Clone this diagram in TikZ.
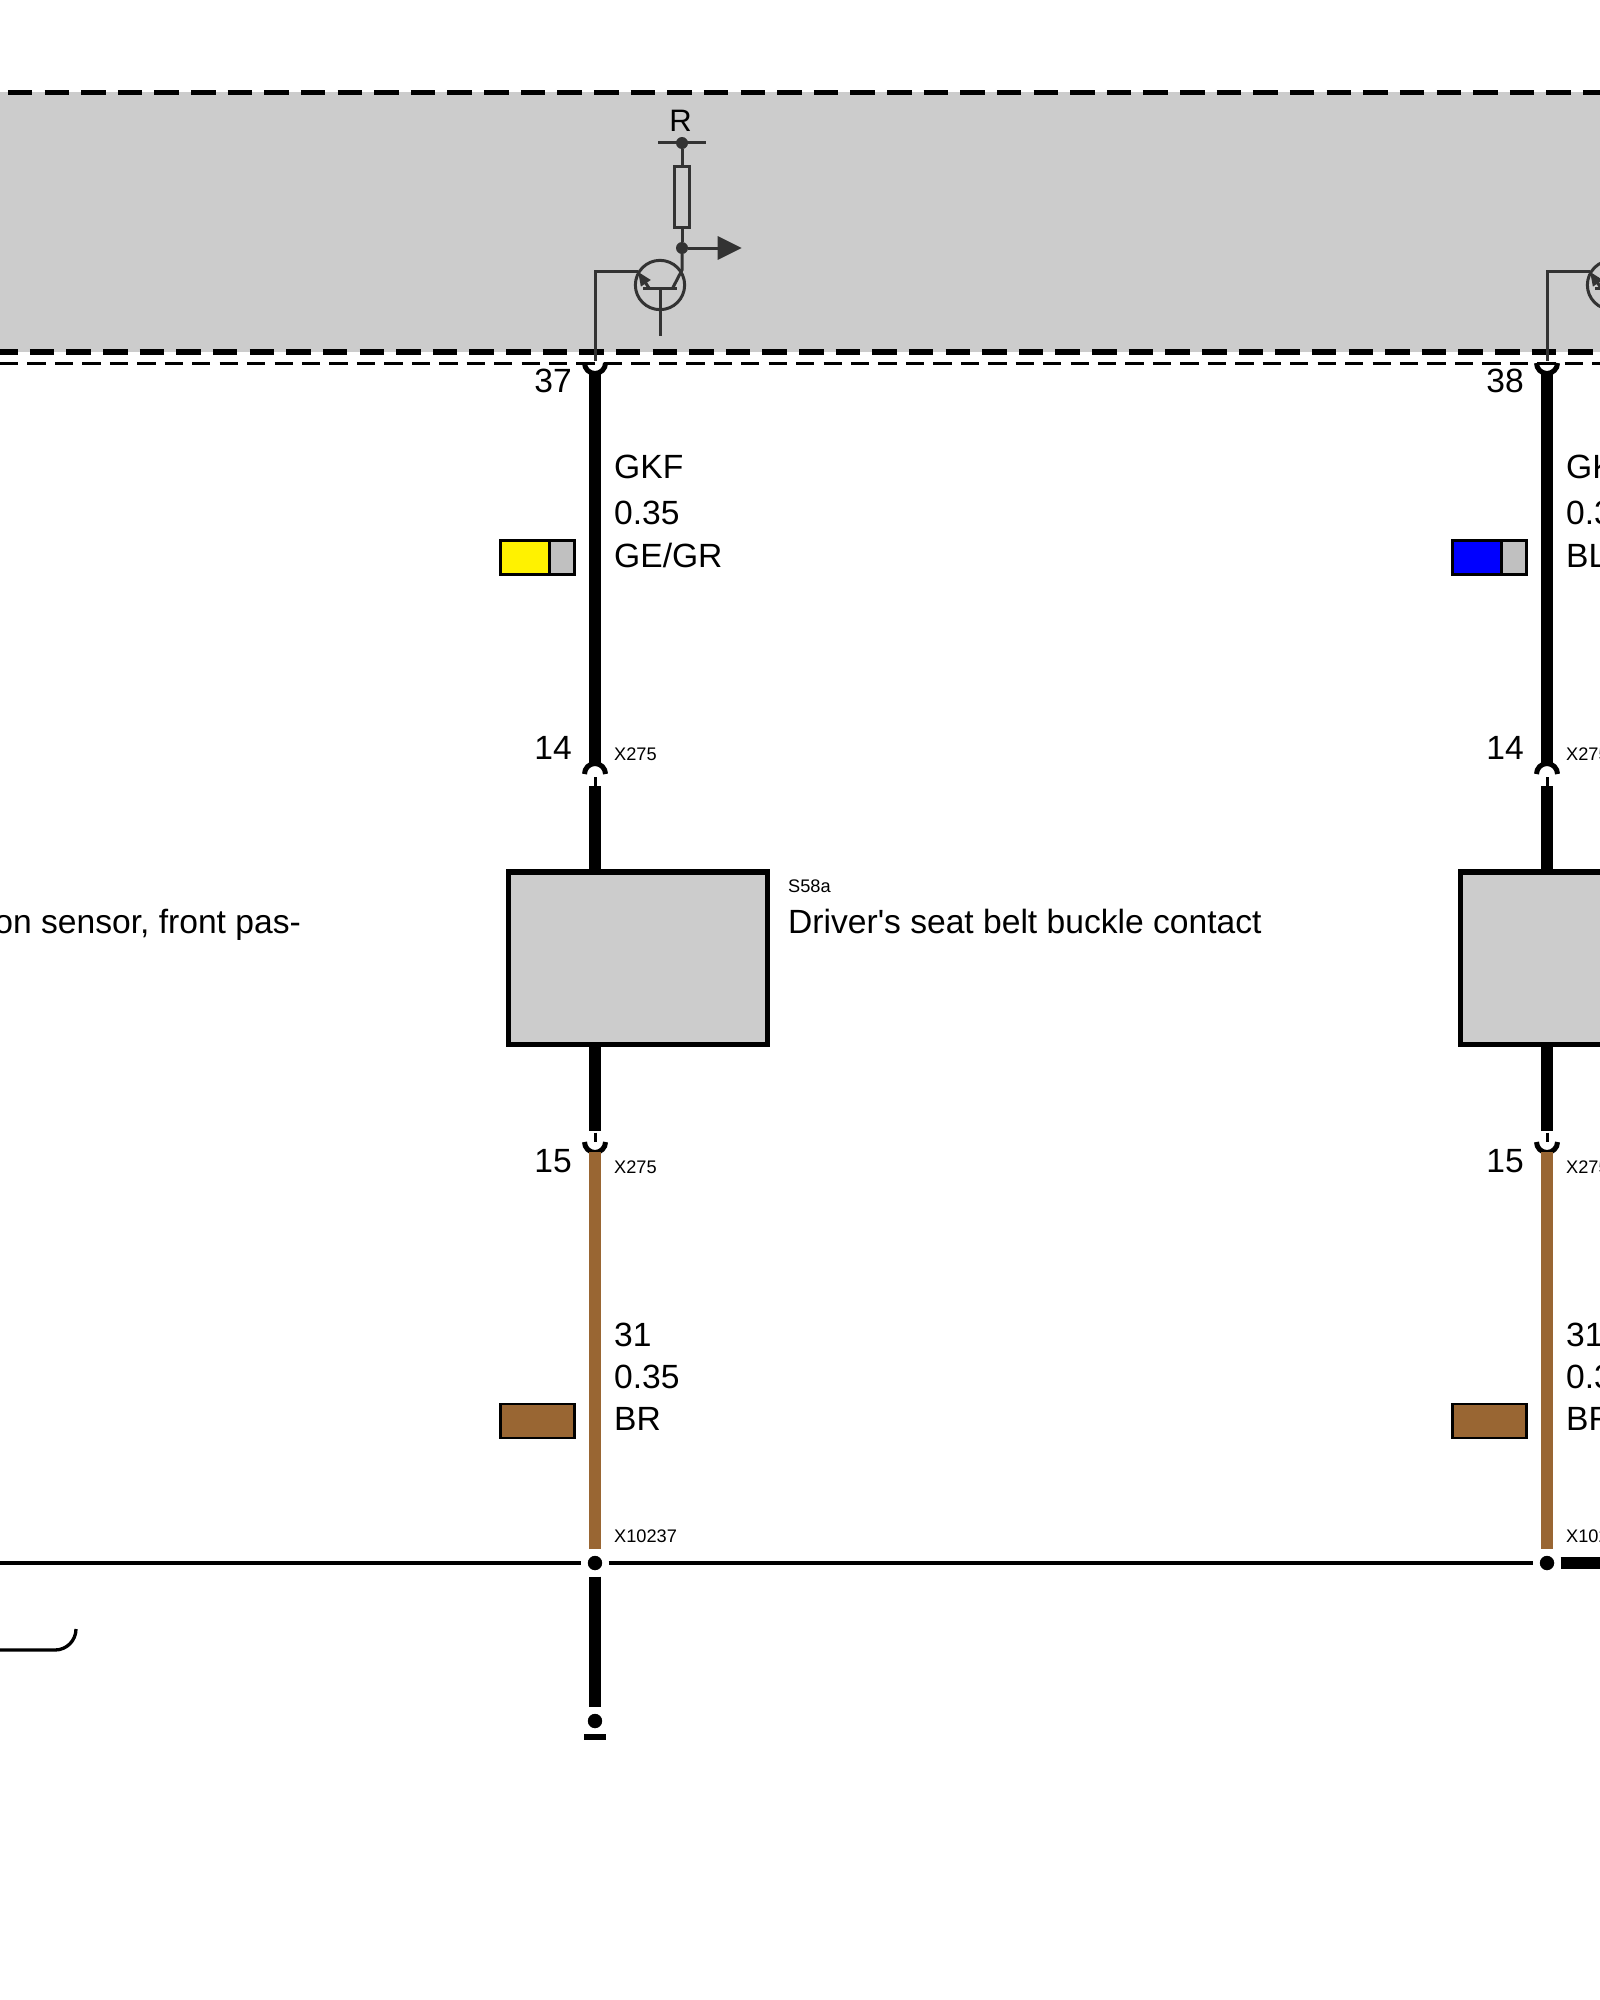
\documentclass[tikz,border=0pt]{standalone}
\usepackage{fontspec}
\newfontfamily\wirefont{Liberation Sans}
\usetikzlibrary{arrows.meta,positioning,calc}
\definecolor{panelgray}{HTML}{CCCCCC}
\definecolor{swatchgray}{HTML}{C0C0C0}
\definecolor{wirebrown}{HTML}{996633}
\definecolor{symbolgray}{HTML}{333333}
\tikzset{
    wire/.style={line width=12pt},
    stub/.style={line width=3pt},
    socket/.style={line width=5pt},
    symbol/.style={draw=symbolgray, line width=3pt},
    joint/.style={circle, fill=black, draw=white, line width=6.2pt, minimum size=21pt, inner sep=0pt},
    tap/.style={circle, fill=symbolgray, inner sep=0pt, minimum size=12pt},
    module/.style={draw=black, fill=panelgray, line width=5.5pt, minimum width=258.8pt, minimum height=172.5pt, inner sep=0pt},
    bigtext/.style={font=\wirefont\fontsize{33.6}{34}\selectfont, inner sep=0pt, anchor=base west},
    pintext/.style={bigtext, anchor=base east},
    tagtext/.style={font=\wirefont\fontsize{18.2}{19}\selectfont, inner sep=0pt, anchor=base west}
}
\begin{document}
\begin{tikzpicture}[x=1pt,y=-1pt]
    \useasboundingbox (0,0) rectangle (1600,2000);
    \clip (0,0) rectangle (1600,2000);

    % Control unit
    \fill[panelgray] (0,92) rectangle (1600,352);
    \draw[line width=5pt, dash pattern=on 24.5pt off 12.13pt] (-28.7,92) -- (1640,92);
    \draw[line width=6pt, dash pattern=on 24.5pt off 12.13pt] (-6.8,352) -- (1640,352);
    \draw[line width=3pt, dash pattern=on 18.3pt off 9.15pt] (0,363) -- (1640,363);

    % Ground bus
    \node[joint] (jointa) at (595,1563) {};
    \node[joint] (jointb) at (1547,1563) {};
    \draw[line width=3.3pt] (0,1563) -- (jointa);
    \draw[line width=3.3pt] (jointa) -- (jointb);
    \coordinate (busend) at (1610,1563);
    \draw[wire] (jointb) -- (busend);

    % Both channels
    \foreach \ch/\dx/\pin/\swatch/\colname in {a/0/37/yellow/GE\slash GR, b/952/38/blue/BL\slash GR} {
    \begin{scope}[xshift=\dx pt]
        % Output stage
        \node[font=\wirefont\fontsize{31}{31}\selectfont, inner sep=0pt, anchor=base] (rail\ch) at (680.5,131) {R};
        \node[tap] (vcc\ch) at (682,143) {};
        \node[tap] (out\ch) at (682,248) {};
        \node[symbol, fill=none, minimum width=14.4pt, minimum height=61pt, inner sep=0pt] (res\ch) at (682,197) {};
        \node[symbol, circle, minimum size=49.3pt, inner sep=0pt] (tr\ch) at (660,285) {};
        \coordinate (sig\ch) at (741.7,248);
        \draw[symbol] (658,142.5) -- (705.7,142.5);
        \draw[symbol] (vcc\ch) -- (res\ch);
        \draw[symbol] (res\ch) -- (out\ch);
        \draw[symbol, -{Triangle[length=24pt,width=23pt]}] (out\ch) -- (sig\ch);
        \draw[symbol] (out\ch) -- (682,270) -- (672.7,288);
        \draw[symbol] (643,288) -- (677,288);
        \draw[symbol] (660,288) -- (660,336);
        \draw[symbol, -{Triangle[length=14pt,width=11pt]}] (649,288) -- (638,271.7);
        \draw[symbol] (638,271.7) -- (595,271.7) -- (595,361);

        % Upper harness
        \draw[socket] (584.5,363) arc (180:0:10.5);
        \draw[socket] (584.5,774) arc (180:360:10.5);
        \coordinate (pina\ch) at (595,372);
        \coordinate (pinb\ch) at (595,764);
        \coordinate (pinc\ch) at (595,786);
        \draw[wire] (pina\ch) -- (pinb\ch);
        \draw[stub] (595,777) -- (pinc\ch);
        \node[module] (box\ch) at (637.85,958) {};
        \draw[wire] (pinc\ch) -- (pinc\ch |- box\ch.north);

        % Lower harness
        \coordinate (pind\ch) at (595,1130.7);
        \coordinate (pine\ch) at (595,1152);
        \draw[wire] (pind\ch |- box\ch.south) -- (pind\ch);
        \draw[stub] (pind\ch) ++(0,2) -- (595,1142);
        \draw[socket] (584.5,1142) arc (180:0:10.5);
        \draw[wire, wirebrown] (pine\ch) -- (joint\ch);

        % Swatches
        \draw[line width=2.7pt, fill=swatchgray] (500.7,540.4) rectangle (574.7,574.4);
        \draw[line width=2.7pt, fill=\swatch] (500.7,540.4) rectangle (549.7,574.4);
        \draw[line width=2.7pt, fill=wirebrown] (500.7,1404) rectangle (574.7,1438);

        % Labels
        \node[pintext] (pintop\ch) at (572,392) {\pin};
        \node[pintext] (pinmid\ch) at (572,759) {14};
        \node[pintext] (pinlow\ch) at (572,1172) {15};
        \node[tagtext] (tagmid\ch) at (614,760) {X275};
        \node[tagtext] (taglow\ch) at (614,1173) {X275};
        \node[tagtext] (taggnd\ch) at (614,1542) {X10237};
        \node[bigtext] (sigtext\ch) at (614,478) {GKF};
        \node[bigtext] (sizea\ch) at (614,524) {0.35};
        \node[bigtext] (cola\ch) at (614,567) {\colname};
        \node[bigtext] (term\ch) at (614,1346) {31};
        \node[bigtext] (sizeb\ch) at (614,1388) {0.35};
        \node[bigtext] (colb\ch) at (614,1430) {BR};
    \end{scope}
    }

    % Ground stud
    \node[joint] (stud) at (595,1721) {};
    \draw[wire] (jointa) -- (stud);
    \fill (584,1734.3) rectangle (606,1740);

    % Module texts
    \node[tagtext] (boxtag) at (788,892) {S58a};
    \node[bigtext] (boxname) at (788,933) {Driver's seat belt buckle contact};
    \node[pintext] (leftname) at (301,933) {on sensor, front pas-};

    % Loose bracket
    \draw[line width=3.3pt] (-5,1650) -- (55,1650) arc (90:0:21);
\end{tikzpicture}
\end{document}
